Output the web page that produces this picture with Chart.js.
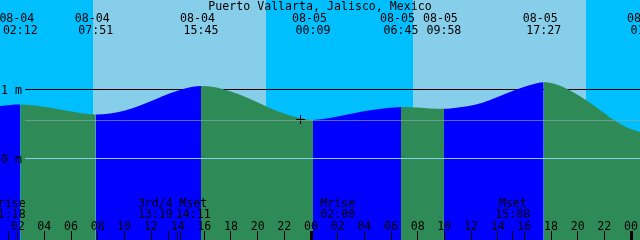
<!DOCTYPE html>
<html><head><meta charset="utf-8">
<script src="https://cdn.jsdelivr.net/npm/chart.js@4/dist/chart.umd.min.js"></script>
<style>html,body{margin:0;padding:0;background:#00BFFF;overflow:hidden}canvas{display:block}</style>
</head><body>
<canvas id="c" width="640" height="240"></canvas>
<script>
// ---------- data ----------
const title = 'Puerto Vallarta, Jalisco, Mexico';
// tide height readings (hours since 08-04 00:00, metres)
const tideHours   = [0.50, 1.43, 2.20, 3.68, 5.18, 6.68, 7.85, 8.93, 10.05, 11.18, 12.30, 13.43, 14.55, 15.75, 16.80, 17.93, 19.05, 20.18, 21.30, 22.43, 23.33, 24.15, 25.05, 26.18, 27.30, 28.43, 29.55, 30.75, 31.58, 32.93, 33.97, 35.18, 36.30, 37.43, 38.55, 39.68, 40.58, 41.45, 42.30, 43.43, 44.55, 45.68, 46.65, 47.55, 48.68, 49.27];
const tideHeights = [0.758, 0.775, 0.781, 0.758, 0.709, 0.659, 0.638, 0.652, 0.696, 0.768, 0.855, 0.945, 1.014, 1.051, 1.033, 0.974, 0.894, 0.797, 0.699, 0.623, 0.580, 0.558, 0.575, 0.616, 0.659, 0.699, 0.729, 0.746, 0.741, 0.726, 0.720, 0.742, 0.778, 0.848, 0.935, 1.017, 1.072, 1.104, 1.080, 0.986, 0.855, 0.703, 0.565, 0.464, 0.384, 0.355];
// high / low tide events
const eventDates = ['08-04', '08-04', '08-04', '08-05', '08-05', '08-05', '08-05', '08-06'];
const eventTimes = ['02:12', '07:51', '15:45', '00:09', '06:45', '09:58', '17:27', '01:16'];
// sun
const sunriseTimes = ['08-04 07:39', '08-05 07:39'];
const sunsetTimes  = ['08-04 20:36', '08-05 20:36'];
// moon events
const moonLabels = ['Mrise', '3rd/4', 'Mset', 'Mrise', 'Mset'];
const moonTimes  = ['08-04 01:18', '08-04 13:19', '08-04 14:11', '08-05 02:00', '08-05 15:08'];
// "now" marker
const nowTime = '08-04 23:13';
const nowHeight = 0.565;
// level lines
const levelValues = [1, 0];
const levelLabels = ['1 m', '0 m'];
const middleLevel = 0.55;
// visible window (hours since 08-04 00:00)
const viewStartHours = 0.675;
const viewEndHours = 48.675;
const hourTickStep = 2;

// ---------- helpers ----------
function toHours(s) {
  const [d, t] = s.split(' ');
  const day = parseInt(d.split('-')[1], 10);
  const [hh, mm] = t.split(':').map(Number);
  return (day - 4) * 24 + hh + mm / 60;
}
const pad2 = n => String(n).padStart(2, '0');

const COLORS = {
  night: '#00BFFF', day: '#87CEEB',
  rise: '#0000FF', fall: '#2E8B57',
  text: '#000000', oneLine: '#000000',
  midLine: 'rgba(150,170,165,0.6)', zeroLine: '#87CEEB'
};
const FONT = '11.6px "DejaVu Sans Mono", "Liberation Mono", monospace';

const tidePoints = tideHours.map((h, i) => ({x: h, y: tideHeights[i]}));

const pxPerM = 69;
const yMax = 1 + 89.5 / pxPerM;
const yMin = yMax - 240 / pxPerM;

const tidePlugin = {
  id: 'tide',
  beforeDatasetsDraw(chart) {
    const ctx = chart.ctx, xs = chart.scales.x, ys = chart.scales.y;
    const {left, right, top, bottom} = chart.chartArea;
    ctx.save();
    ctx.fillStyle = COLORS.night;
    ctx.fillRect(left, top, right - left, bottom - top);
    ctx.fillStyle = COLORS.day;
    sunriseTimes.forEach((sr, i) => {
      const x0 = xs.getPixelForValue(toHours(sr));
      const x1 = xs.getPixelForValue(toHours(sunsetTimes[i]));
      ctx.fillRect(Math.round(x0), top, Math.round(x1) - Math.round(x0), bottom - top);
    });
    // 1 m line (behind water)
    ctx.fillStyle = COLORS.oneLine;
    const y1 = Math.floor(ys.getPixelForValue(levelValues[0]));
    ctx.fillRect(25, y1, right - 25, 1);
    ctx.restore();
  },
  afterDatasetsDraw(chart) {
    const ctx = chart.ctx, xs = chart.scales.x, ys = chart.scales.y;
    const {right} = chart.chartArea;
    ctx.save();
    // middle and zero lines
    ctx.fillStyle = COLORS.midLine;
    ctx.fillRect(25, Math.floor(ys.getPixelForValue(middleLevel)), right - 25, 1);
    ctx.fillStyle = COLORS.zeroLine;
    ctx.fillRect(25, Math.floor(ys.getPixelForValue(levelValues[1])), right - 25, 1);

    ctx.fillStyle = COLORS.text;
    ctx.font = FONT;
    ctx.textBaseline = 'alphabetic';
    // title
    ctx.textAlign = 'center';
    ctx.fillText(title, 320, 10);
    // tide events
    eventDates.forEach((d, i) => {
      const x = xs.getPixelForValue(toHours(d + ' ' + eventTimes[i]));
      ctx.fillText(d, x - 3.5, 22);
      ctx.fillText(eventTimes[i], x, 34);
    });
    // level labels
    ctx.textAlign = 'left';
    levelValues.forEach((v, i) => {
      const y = ys.getPixelForValue(v);
      ctx.fillText(levelLabels[i], 1, Math.floor(y) + 4.5);
    });
    // hour ticks
    ctx.textAlign = 'center';
    const first = Math.ceil(viewStartHours / hourTickStep) * hourTickStep;
    for (let h = first; h <= viewEndHours; h += hourTickStep) {
      const x = xs.getPixelForValue(h);
      if (h % 24 === 0) ctx.fillRect(Math.round(x) - 1, 231, 3, 9);
      else ctx.fillRect(Math.floor(x), 231, 1, 9);
      ctx.fillText(pad2(h % 24), x, 230);
    }
    // moon events: ticks at exact time, labels pushed apart if they collide
    const mx = moonTimes.map(t => xs.getPixelForValue(toHours(t)));
    mx.forEach(x => ctx.fillRect(Math.floor(x), 231, 1, 9));
    const lx = mx.slice();
    const minSep = 38;
    for (let i = 1; i < lx.length; i++) {
      const d = lx[i] - lx[i - 1];
      if (d < minSep) { const p = (minSep - d) / 2; lx[i - 1] -= p; lx[i] += p; }
    }
    moonLabels.forEach((lab, i) => {
      ctx.fillText(lab, lx[i], 207);
      ctx.fillText(moonTimes[i].split(' ')[1], lx[i], 218);
    });
    ctx.restore();
  }
};

new Chart(document.getElementById('c'), {
  type: 'line',
  data: {
    datasets: [
      {
        data: tidePoints,
        order: 2,
        fill: 'start',
        borderWidth: 0,
        borderColor: 'rgba(0,0,0,0)',
        pointRadius: 0,
        pointHoverRadius: 0,
        cubicInterpolationMode: 'monotone',
        backgroundColor: COLORS.rise,
        segment: {
          backgroundColor: c => tideHeights[c.p1DataIndex] >= tideHeights[c.p0DataIndex] ? COLORS.rise : COLORS.fall
        }
      },
      {
        type: 'scatter',
        data: [{x: toHours(nowTime), y: nowHeight}],
        order: 1,
        showLine: false,
        pointStyle: 'cross',
        pointRadius: 4.5,
        pointHoverRadius: 4.5,
        borderColor: '#000',
        borderWidth: 1,
        backgroundColor: '#000'
      }
    ]
  },
  options: {
    responsive: false,
    animation: false,
    devicePixelRatio: 1,
    layout: {padding: 0, autoPadding: false},
    plugins: {legend: {display: false}, tooltip: {enabled: false}},
    events: [],
    scales: {
      x: {type: 'linear', min: viewStartHours, max: viewEndHours, display: false},
      y: {type: 'linear', min: yMin, max: yMax, display: false}
    }
  },
  plugins: [tidePlugin]
});
</script>
</body></html>
